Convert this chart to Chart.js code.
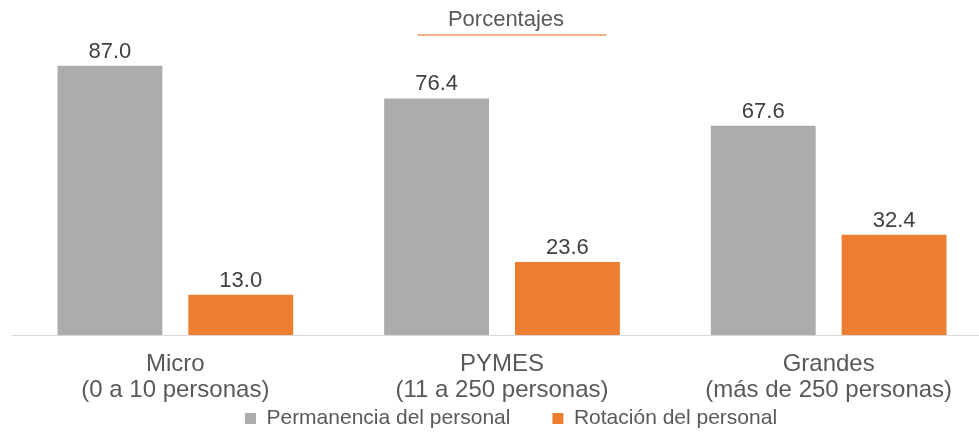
<!DOCTYPE html>
<html>
<head>
<meta charset="utf-8">
<script src="https://cdn.jsdelivr.net/npm/chart.js@4.4.1/dist/chart.umd.min.js"></script>
<style>
    html, body { margin: 0; padding: 0; background: #ffffff; overflow: hidden; }
    #wrap { position: relative; width: 992px; height: 439px; }
</style>
</head>
<body>
<div id="wrap"><canvas id="chart"></canvas></div>
<script>
// Datos del gráfico
const categorias = [
    ['Micro', '(0 a 10 personas)'],
    ['PYMES', '(11 a 250 personas)'],
    ['Grandes', '(más de 250 personas)']
];
const permanencia = [87.0, 76.4, 67.6];
const rotacion = [13.0, 23.6, 32.4];
const titulo = 'Porcentajes';

const fuente = "'Liberation Sans', Arial, sans-serif";
const tamLeyenda = 21;
const espLeyenda = 42;

// Etiquetas de valor encima de cada barra
const etiquetasPlugin = {
    id: 'etiquetas',
    afterDatasetsDraw(chart) {
        const ctx = chart.ctx;
        ctx.save();
        ctx.font = '22px ' + fuente;
        ctx.fillStyle = '#404040';
        ctx.textAlign = 'center';
        ctx.textBaseline = 'alphabetic';
        chart.data.datasets.forEach(function (ds, i) {
            chart.getDatasetMeta(i).data.forEach(function (bar, j) {
                ctx.fillText(ds.data[j].toFixed(1), bar.x, bar.y - 8);
            });
        });
        ctx.restore();
    }
};

// Ajuste de título y leyenda + línea bajo el título
const ajustePlugin = {
    id: 'ajuste',
    beforeDraw(chart) {
        const area = chart.chartArea;
        if (chart.legend) {
            chart.legend.left = area.left + 9;
            chart.legend.right = area.right + 9;
            chart.legend.top = chart.height - 10 - tamLeyenda - espLeyenda;
        }
        if (chart.titleBlock) {
            chart.titleBlock.left = area.left + 4;
            chart.titleBlock.right = area.right + 4;
        }
    },
    afterDraw(chart) {
        const t = chart.titleBlock;
        const cx = (t.left + t.right) / 2 + 6;
        const ctx = chart.ctx;
        ctx.save();
        ctx.strokeStyle = '#F4B183';
        ctx.lineWidth = 2;
        ctx.beginPath();
        ctx.moveTo(cx - 94.5, 35);
        ctx.lineTo(cx + 94.5, 35);
        ctx.stroke();
        ctx.restore();
    }
};

const ctx = document.getElementById('chart').getContext('2d');
const chart = new Chart(ctx, {
    type: 'bar',
    data: {
        labels: categorias,
        datasets: [
            {
                label: 'Permanencia del personal',
                data: permanencia,
                backgroundColor: '#AEABAB',
                borderWidth: 0,
                barPercentage: 0.8015,
                categoryPercentage: 0.801
            },
            {
                label: 'Rotación del personal',
                data: rotacion,
                backgroundColor: '#ED7D31',
                borderWidth: 0,
                barPercentage: 0.8015,
                categoryPercentage: 0.801
            }
        ]
    },
    options: {
        responsive: true,
        maintainAspectRatio: false,
        animation: false,
        layout: { padding: { left: 12, right: 0, top: 0, bottom: 0 } },
        plugins: {
            tooltip: { enabled: false },
            title: {
                display: true,
                text: titulo,
                color: '#595959',
                font: { family: fuente, size: 22, weight: 'normal' },
                padding: { top: 7, bottom: -8 }
            },
            legend: {
                position: 'bottom',
                maxHeight: 35,
                labels: {
                    color: '#595959',
                    font: { family: fuente, size: tamLeyenda },
                    boxWidth: 11,
                    boxHeight: 11,
                    padding: espLeyenda
                }
            }
        },
        scales: {
            x: {
                grid: { display: false, drawTicks: false },
                border: { display: true, color: '#D9D9D9', width: 1 },
                ticks: {
                    color: '#595959',
                    font: { family: fuente, size: 24, lineHeight: 1.1 },
                    padding: 16,
                    maxRotation: 0,
                    autoSkip: false
                },
                afterFit: function (scale) {
                    scale.height = 69;
                }
            },
            y: {
                display: false,
                min: 0,
                max: 100
            }
        }
    },
    plugins: [etiquetasPlugin, ajustePlugin]
});
</script>
</body>
</html>
